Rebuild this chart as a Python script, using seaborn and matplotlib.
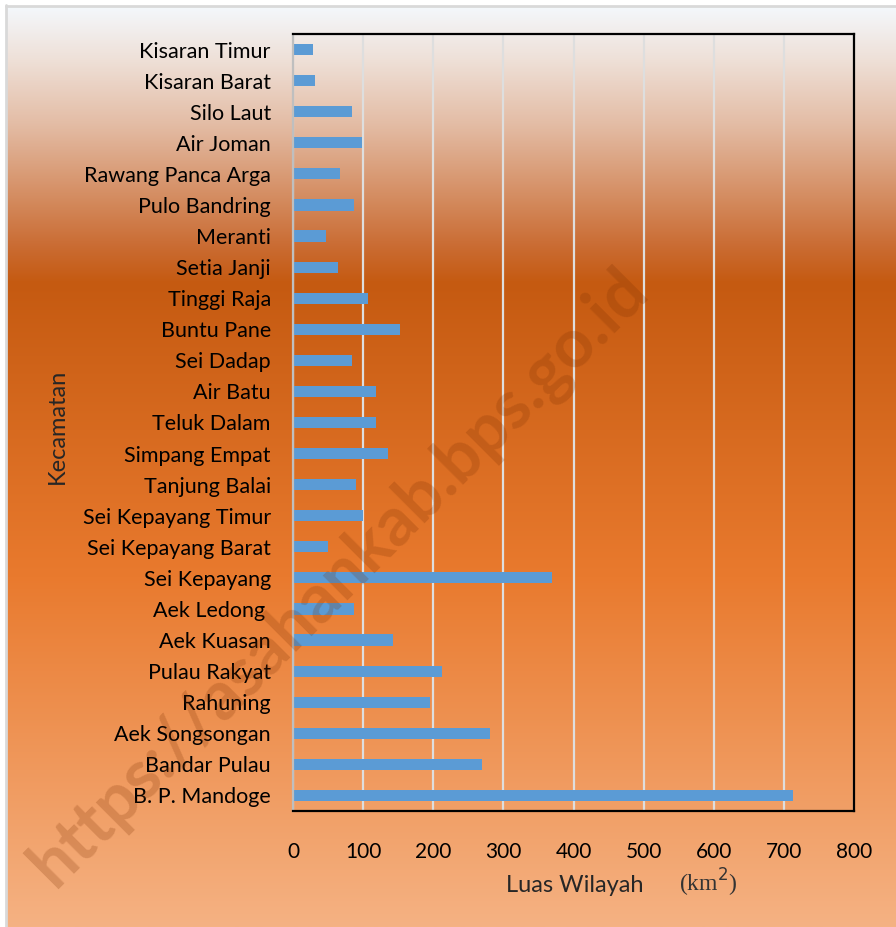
import numpy as np
import matplotlib
matplotlib.use("Agg")
import matplotlib.pyplot as plt
from matplotlib.colors import to_rgb
import seaborn as sns

# Luas wilayah per kecamatan (km2), urutan dari atas ke bawah
kecamatan = [
    "Kisaran Timur", "Kisaran Barat", "Silo Laut", "Air Joman",
    "Rawang Panca Arga", "Pulo Bandring", "Meranti", "Setia Janji",
    "Tinggi Raja", "Buntu Pane", "Sei Dadap", "Air Batu", "Teluk Dalam",
    "Simpang Empat", "Tanjung Balai", "Sei Kepayang Timur",
    "Sei Kepayang Barat", "Sei Kepayang", "Aek Ledong ", "Aek Kuasan",
    "Pulau Rakyat", "Rahuning", "Aek Songsongan", "Bandar Pulau",
    "B. P. Mandoge",
]
luas = [29, 32, 84, 98, 67, 87, 47, 64, 107, 152, 84, 118, 118, 135,
        90, 100, 50, 369, 87, 143, 212, 195, 281, 269, 713]
x_ticks = [0, 100, 200, 300, 400, 500, 600, 700, 800]

sns.set_theme(style="white")
plt.rcParams["font.family"] = ["Lato", "DejaVu Sans"]

W, H = 896, 927
fig = plt.figure(figsize=(W / 100, H / 100), dpi=100)
fig.patch.set_facecolor("white")

# Achtergrond met kleurverloop
bg = fig.add_axes([6 / W, 0, 1 - 6 / W, 1 - 6 / H], zorder=-10)
stops = [(0.0, "#f4f8fc"), (0.06, "#eedfd6"), (0.13, "#e3bba3"),
         (0.26, "#ca6c33"), (0.30, "#c55a11"), (0.62, "#e97a2e"),
         (1.0, "#f5b283")]
pos = np.array([s[0] for s in stops])
cols = np.array([to_rgb(s[1]) for s in stops])
t = np.linspace(0, 1, 600)
grad = np.stack([np.interp(t, pos, cols[:, i]) for i in range(3)], axis=1)
bg.imshow(grad[:, None, :], aspect="auto", extent=[0, 1, 1, 0])
bg.set_axis_off()

# Grijze rand links en boven
fig.add_artist(plt.Line2D([5.5 / W, 5.5 / W], [0, 1 - 5 / H], color="#d9d9d9", lw=2))
fig.add_artist(plt.Line2D([5.5 / W, 1], [1 - 5.5 / H, 1 - 5.5 / H], color="#d9d9d9", lw=2))

ax = fig.add_axes([293 / W, 1 - 811 / H, (854 - 293) / W, (811 - 34) / H])
ax.set_facecolor("none")
sns.barplot(x=luas, y=kecamatan, color="#5b9bd5", width=0.36, ax=ax,
            saturation=1, edgecolor="none")
ax.set_xlim(0, 800)
ax.set_ylim(len(kecamatan) - 0.5, -0.5)
ax.set_xticks(x_ticks)
ax.xaxis.grid(True, color="#dedede", lw=1.6)
ax.set_axisbelow(True)
ax.tick_params(axis="x", length=0, pad=22, labelsize=15, labelcolor="black")
ax.tick_params(axis="y", length=0, pad=16, labelsize=15.5, labelcolor="black")
ax.set_xlabel("")
ax.set_ylabel("")
for side in ["top", "right", "bottom"]:
    ax.spines[side].set_visible(True)
    ax.spines[side].set_color("black")
    ax.spines[side].set_linewidth(1.6)
ax.spines["left"].set_color("#bfbfbf")
ax.spines["left"].set_linewidth(1.6)

# As-titels
fig.text(575 / W, 1 - 886 / H, "Luas Wilayah", ha="center", va="center", fontsize=17)
fig.text(708 / W, 1 - 883 / H, "(km$^2$)", ha="center", va="center", fontsize=17,
         family="Liberation Serif", color="#333333")
fig.text(57 / W, 1 - 426 / H, "Kecamatan", rotation=90, ha="center", va="center",
         fontsize=17)

# Watermerk
fig.text(340 / W, 1 - 578 / H, "https://asahankab.bps.go.id", rotation=45,
         ha="center", va="center", fontsize=49, fontweight="bold",
         color="#7a2e00", alpha=0.22)

fig.savefig("out.png", dpi=100)
